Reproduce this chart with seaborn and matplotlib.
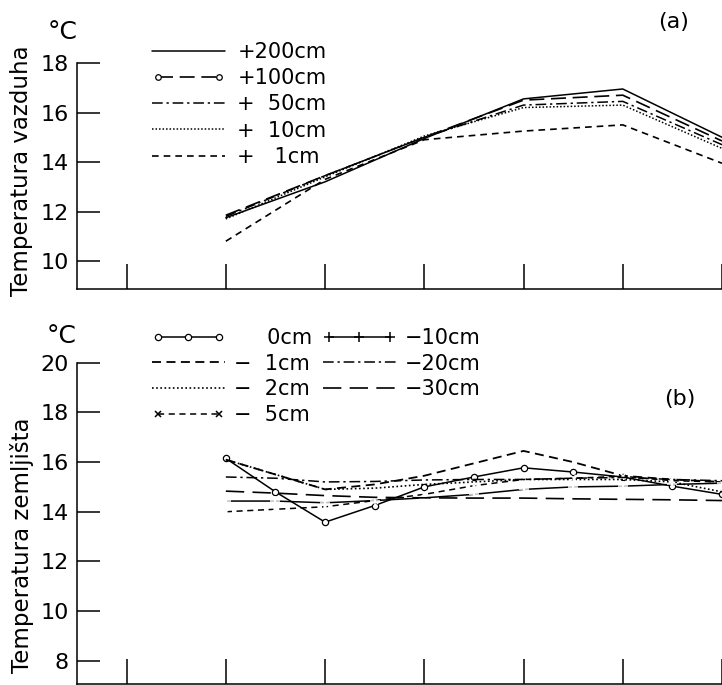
import matplotlib
matplotlib.use("Agg")
import matplotlib.pyplot as plt
from matplotlib.lines import Line2D
from matplotlib.legend_handler import HandlerLine2D
import seaborn as sns
import pandas as pd

# ---------------- data ----------------
x_air = [1, 2, 3, 4, 5, 6]
air_200 = [11.75, 13.2, 14.95, 16.55, 16.95, 15.0]
air_100 = [11.85, 13.45, 15.0, 16.5, 16.7, 14.85]
air_50 = [11.8, 13.45, 15.0, 16.3, 16.45, 14.7]
air_10 = [11.7, 13.4, 15.05, 16.2, 16.3, 14.55]
air_1 = [10.8, 13.3, 14.9, 15.25, 15.5, 13.95]
air_labels = ["+200cm", "+100cm", "+  50cm", "+  10cm", "+   1cm"]

x_soil = [1, 1.5, 2, 2.5, 3, 3.5, 4, 4.5, 5, 5.5, 6]
soil_0 = [16.15, 14.8, 13.58, 14.25, 15.0, 15.4, 15.77, 15.6, 15.4, 15.03, 14.7]
soil_1 = [16.1, 15.5, 14.9, 15.1, 15.45, 15.95, 16.45, 16.0, 15.45, 15.3, 15.2]
soil_2 = [16.1, 15.5, 14.9, 14.95, 15.1, 15.2, 15.3, 15.3, 15.3, 15.2, 14.8]
soil_5 = [14.0, 14.1, 14.2, 14.45, 14.7, 15.05, 15.3, 15.35, 15.43, 15.25, 15.2]
soil_10 = [14.43, 14.43, 14.36, 14.45, 14.56, 14.7, 14.9, 15.0, 15.03, 15.1, 15.15]
soil_20 = [15.4, 15.35, 15.2, 15.22, 15.28, 15.3, 15.3, 15.35, 15.38, 15.3, 15.25]
soil_30 = [14.83, 14.75, 14.65, 14.58, 14.56, 14.55, 14.55, 14.52, 14.5, 14.48, 14.45]
soil_labels = ["     0cm", "−  1cm", "−  2cm", "−  5cm", "−10cm", "−20cm", "−30cm"]

air_yticks = [10, 12, 14, 16, 18]
soil_yticks = [8, 10, 12, 14, 16, 18, 20]
x_ticks = [0, 1, 2, 3, 4, 5, 6]

# ---------------- style ----------------
sns.set_style("ticks")
plt.rcParams["font.family"] = ["DejaVu Sans"]
plt.rcParams["axes.linewidth"] = 1.1
for k in ["text.color", "axes.labelcolor", "xtick.color", "ytick.color", "axes.edgecolor"]:
    plt.rcParams[k] = "black"

W, H = 722, 685
fig = plt.figure(figsize=(W / 100, H / 100), dpi=100)
ax1 = fig.add_axes([77 / W, 1 - 289 / H, 1 - 77 / W, (289 - 63) / H])
ax2 = fig.add_axes([77 / W, 1.5 / H, 1 - 77 / W, (684 - 363.3) / H])

K = "black"
styles_air = [
    dict(linestyle="-", lw=1.1),
    dict(linestyle=(0, (9, 4)), lw=1.2),
    dict(linestyle=(0, (7, 2.5, 1.5, 2.5)), lw=1.1),
    dict(linestyle=(0, (1, 1.3)), lw=1.1),
    dict(linestyle=(0, (4, 3)), lw=1.2),
]
series_air = [air_200, air_100, air_50, air_10, air_1]
for ys, st in zip(series_air, styles_air):
    df = pd.DataFrame({"x": x_air, "y": ys})
    sns.lineplot(data=df, x="x", y="y", ax=ax1, color=K, **st)

styles_soil = [
    dict(linestyle="-", lw=1.1, marker="o", ms=4.5, mfc="white", mec=K, mew=0.9),
    dict(linestyle=(0, (5, 3)), lw=1.3),
    dict(linestyle=(0, (1, 1.5)), lw=1.2),
    dict(linestyle=(0, (4, 3)), lw=1.1, marker="x", ms=5, mew=1.1),
    dict(linestyle="-", lw=1.1, marker="+", ms=7, mew=1.1),
    dict(linestyle=(0, (7, 2.5, 1.5, 2.5)), lw=1.1),
    dict(linestyle=(0, (11, 5)), lw=1.2),
]
series_soil = [soil_0, soil_1, soil_2, soil_5, soil_10, soil_20, soil_30]
for ys, st in zip(series_soil, styles_soil):
    df = pd.DataFrame({"x": x_soil, "y": ys})
    sns.lineplot(data=df, x="x", y="y", ax=ax2, color=K, **st)

for ax, yt, ylim in [(ax1, air_yticks, (8.87, 18)), (ax2, soil_yticks, (7.08, 20))]:
    ax.set_xlim(-0.5, 6.0)
    ax.set_ylim(*ylim)
    ax.set_xticks(x_ticks)
    ax.set_xticklabels([])
    ax.set_yticks(yt)
    ax.set_yticklabels([str(v) for v in yt])
    ax.set_xlabel("")
    ax.set_ylabel("")
    ax.tick_params(axis="x", direction="in", length=18, width=1.1, color=K)
    ax.tick_params(axis="y", direction="in", length=16.5, width=1.1, color=K,
                   pad=6, labelsize=16, labelcolor=K)
    for s in ["top", "right"]:
        ax.spines[s].set_visible(False)
    for s in ["left", "bottom"]:
        ax.spines[s].set_color(K)
    ax.patch.set_alpha(0)

# ---------------- legends ----------------
h_air = []
for i, st in enumerate(styles_air):
    kw = dict(st)
    if i == 1:
        kw.update(marker="o", ms=4, mfc="white", mec=K, mew=0.9)
    h_air.append(Line2D([], [], color=K, **kw))
hm_air = {h_air[1]: HandlerLine2D(numpoints=2)}
ax1.legend(h_air, air_labels, handler_map=hm_air, loc="upper left",
           bbox_to_anchor=(152 / W, 1 - 42 / H), bbox_transform=fig.transFigure,
           frameon=False, fontsize=15, handlelength=3.5, handletextpad=0.6,
           labelspacing=0.3, borderpad=0, borderaxespad=0, labelcolor=K)

h_soil = [Line2D([], [], color=K, **st) for st in styles_soil]
hm_soil = {h_soil[0]: HandlerLine2D(numpoints=3),
           h_soil[3]: HandlerLine2D(numpoints=2),
           h_soil[4]: HandlerLine2D(numpoints=3)}
ax2.legend(h_soil, soil_labels, handler_map=hm_soil, ncol=2, loc="upper left",
           bbox_to_anchor=(152 / W, 1 - 328 / H), bbox_transform=fig.transFigure,
           frameon=False, fontsize=15, handlelength=3.5, handletextpad=0.45,
           labelspacing=0.27, columnspacing=0.5, borderpad=0, borderaxespad=0,
           labelcolor=K)

# ---------------- texts ----------------
fig.text(22 / W, 1 - 171 / H, "Temperatura vazduha", rotation=90,
         ha="center", va="center", fontsize=16.5, color=K)
fig.text(22 / W, 1 - 545 / H, "Temperatura zemljišta", rotation=90,
         ha="center", va="center", fontsize=16.5, color=K)
fig.text(63 / W, 1 - 32 / H, "°C", ha="center", va="center", fontsize=18, color=K)
fig.text(62 / W, 1 - 336 / H, "°C", ha="center", va="center", fontsize=18, color=K)
fig.text(674 / W, 1 - 22 / H, "(a)", ha="center", va="center", fontsize=16, color=K)
fig.text(680 / W, 1 - 399 / H, "(b)", ha="center", va="center", fontsize=16, color=K)

fig.savefig("out.png", dpi=100)
